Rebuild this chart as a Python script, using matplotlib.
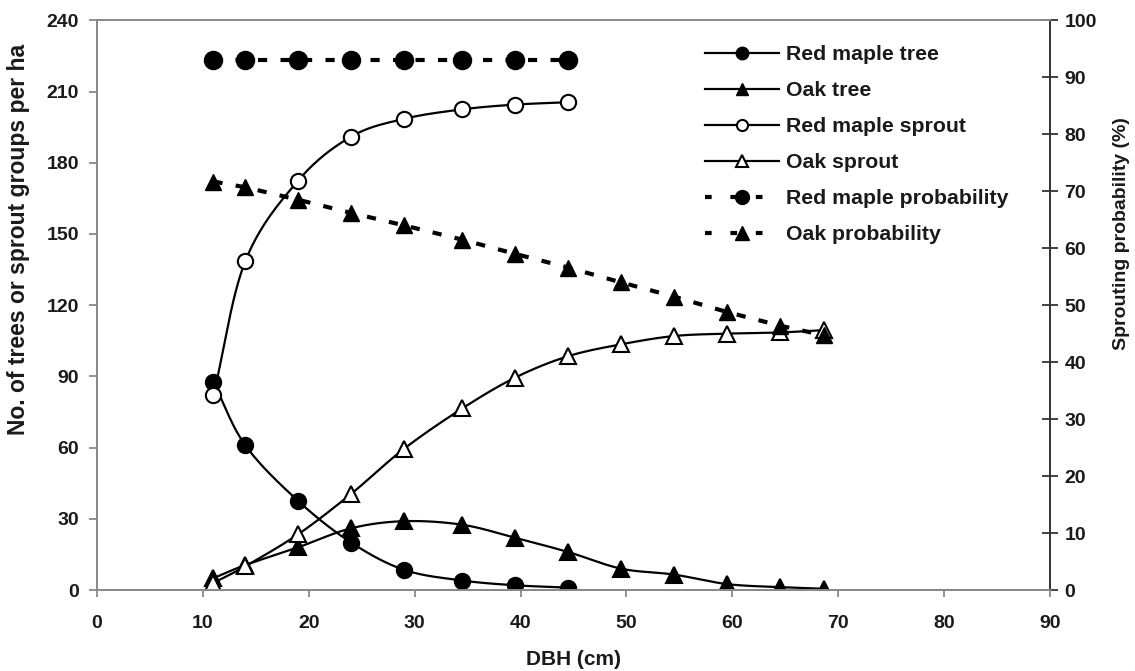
import numpy as np
import matplotlib
matplotlib.use("Agg")
import matplotlib.pyplot as plt
from matplotlib.lines import Line2D

plt.rcParams['font.family'] = ['Liberation Sans', 'DejaVu Sans']
plt.rcParams['font.weight'] = 'bold'

# ---- data ----
dbh_maple = [11, 14, 19, 24, 29, 34.5, 39.5, 44.5]
dbh_oak = [11, 14, 19, 24, 29, 34.5, 39.5, 44.5, 49.5, 54.5, 59.5, 64.5, 68.7]

red_maple_tree = [87.5, 61, 37.5, 20, 8.5, 4, 2, 1]
red_maple_sprout = [82, 138.5, 172.5, 191, 198.5, 202.5, 204.5, 205.5]
oak_tree = [5, 10.5, 18, 26, 29, 27.5, 22, 16, 9, 6.5, 2.5, 1.2, 0.5]
oak_sprout = [3, 10, 23.5, 40.5, 59.5, 76.5, 89.5, 98.5, 103.5, 107, 108, 108.5, 109.5]
red_maple_prob = [93, 93, 93, 93, 93, 93, 93, 93]
oak_prob = [71.7, 70.7, 68.5, 66.2, 64, 61.5, 59, 56.6, 54, 51.5, 48.8, 46.4, 44.7]

x_ticks = [0, 10, 20, 30, 40, 50, 60, 70, 80, 90]
y_ticks_left = [0, 30, 60, 90, 120, 150, 180, 210, 240]
y_ticks_right = [0, 10, 20, 30, 40, 50, 60, 70, 80, 90, 100]

labels = ['Red maple tree', 'Oak tree', 'Red maple sprout', 'Oak sprout',
          'Red maple probability', 'Oak probability']


def smooth(x, y, n=30):
    """Catmull-Rom smoothed curve through the data points (line style only)."""
    x = np.asarray(x, float)
    y = np.asarray(y, float)
    px = np.concatenate([[2 * x[0] - x[1]], x, [2 * x[-1] - x[-2]]])
    py = np.concatenate([[2 * y[0] - y[1]], y, [2 * y[-1] - y[-2]]])
    xs, ys = [], []
    t = np.linspace(0, 1, n)
    for i in range(1, len(px) - 2):
        p0, p1, p2, p3 = px[i - 1], px[i], px[i + 1], px[i + 2]
        q0, q1, q2, q3 = py[i - 1], py[i], py[i + 1], py[i + 2]
        t2, t3 = t * t, t * t * t
        xs.append(0.5 * (2 * p1 + (-p0 + p2) * t + (2 * p0 - 5 * p1 + 4 * p2 - p3) * t2 + (-p0 + 3 * p1 - 3 * p2 + p3) * t3))
        ys.append(0.5 * (2 * q1 + (-q0 + q2) * t + (2 * q0 - 5 * q1 + 4 * q2 - q3) * t2 + (-q0 + 3 * q1 - 3 * q2 + q3) * t3))
    return np.concatenate(xs), np.concatenate(ys)


fig = plt.figure(figsize=(11.35, 6.71), dpi=100)
ax = fig.add_axes([0.0855, 0.1207, 0.8395, 0.849])
ax2 = ax.twinx()

TXT = '#1a1a1a'
lw = 1.6
DASH = (2.2, 3.2)

for xs, ys, mk, fc in [
    (dbh_maple, red_maple_tree, 'o', 'black'),
    (dbh_oak, oak_tree, '^', 'black'),
    (dbh_maple, red_maple_sprout, 'o', 'white'),
    (dbh_oak, oak_sprout, '^', 'white'),
]:
    sx, sy = smooth(xs, ys)
    ax.plot(sx, sy, color='black', lw=lw, zorder=2)
    ax.plot(xs, ys, linestyle='none', marker=mk, ms=11, mfc=fc, mec='black', mew=1.5, zorder=3)

ax2.plot(dbh_maple, red_maple_prob, color='black', lw=3, dashes=DASH,
         marker='o', ms=13, mfc='black', mec='black')
ax2.plot(dbh_oak, oak_prob, color='black', lw=3, dashes=DASH,
         marker='^', ms=12, mfc='black', mec='black')

ax.set_xlim(0, 90)
ax.set_ylim(0, 240)
ax2.set_ylim(0, 100)
ax.set_xticks(x_ticks)
ax.set_yticks(y_ticks_left)
ax2.set_yticks(y_ticks_right)

for a in (ax, ax2):
    for s in a.spines.values():
        s.set_color('#8a8a8a')
        s.set_linewidth(1.4)
ax2.spines['right'].set_color('#333333')

ax.tick_params(axis='y', direction='out', length=6, width=1.3, color='#8a8a8a',
               labelsize=14, pad=7, labelcolor=TXT)
ax.tick_params(axis='x', direction='out', length=5, width=1.3, color='#8a8a8a',
               labelsize=14, pad=13, labelcolor=TXT)
ax2.tick_params(axis='y', direction='inout', length=11, width=1.3, color='#333333',
                labelsize=14, pad=5, labelcolor=TXT)
for lab in ax.get_xticklabels() + ax.get_yticklabels() + ax2.get_yticklabels():
    lab.set_fontweight('bold')

ax.set_xlabel('DBH (cm)', fontsize=15, fontweight='bold', labelpad=13, color=TXT)
ax.set_ylabel('No. of trees or sprout groups per ha', fontsize=16.5, fontweight='bold', color=TXT)
ax2.set_ylabel('Sprouting probability (%)', fontsize=14, fontweight='bold', color=TXT)
ax.yaxis.set_label_coords(-0.070, 0.615)
ax2.yaxis.set_label_coords(1.066, 0.625)

handles = [
    Line2D([], [], color='black', lw=lw, marker='o', ms=9, mfc='black', mec='black'),
    Line2D([], [], color='black', lw=lw, marker='^', ms=9, mfc='black', mec='black'),
    Line2D([], [], color='black', lw=lw, marker='o', ms=8, mfc='white', mec='black', mew=1.5),
    Line2D([], [], color='black', lw=lw, marker='^', ms=8, mfc='white', mec='black', mew=1.5),
    Line2D([], [], color='black', lw=3, dashes=(1.6, 4.5), marker='o', ms=10, mfc='black', mec='black'),
    Line2D([], [], color='black', lw=3, dashes=(1.6, 4.5), marker='^', ms=10, mfc='black', mec='black'),
]
leg = ax2.legend(handles, labels, loc='upper left', bbox_to_anchor=(705 / 1135, 1 - 45 / 671),
                 bbox_transform=fig.transFigure, frameon=False, borderpad=0, borderaxespad=0,
                 handlelength=3.5, handletextpad=0.3, labelspacing=0.80,
                 prop={'weight': 'bold', 'size': 15.3})
for t in leg.get_texts():
    t.set_color(TXT)

fig.savefig('out.png', dpi=100)
